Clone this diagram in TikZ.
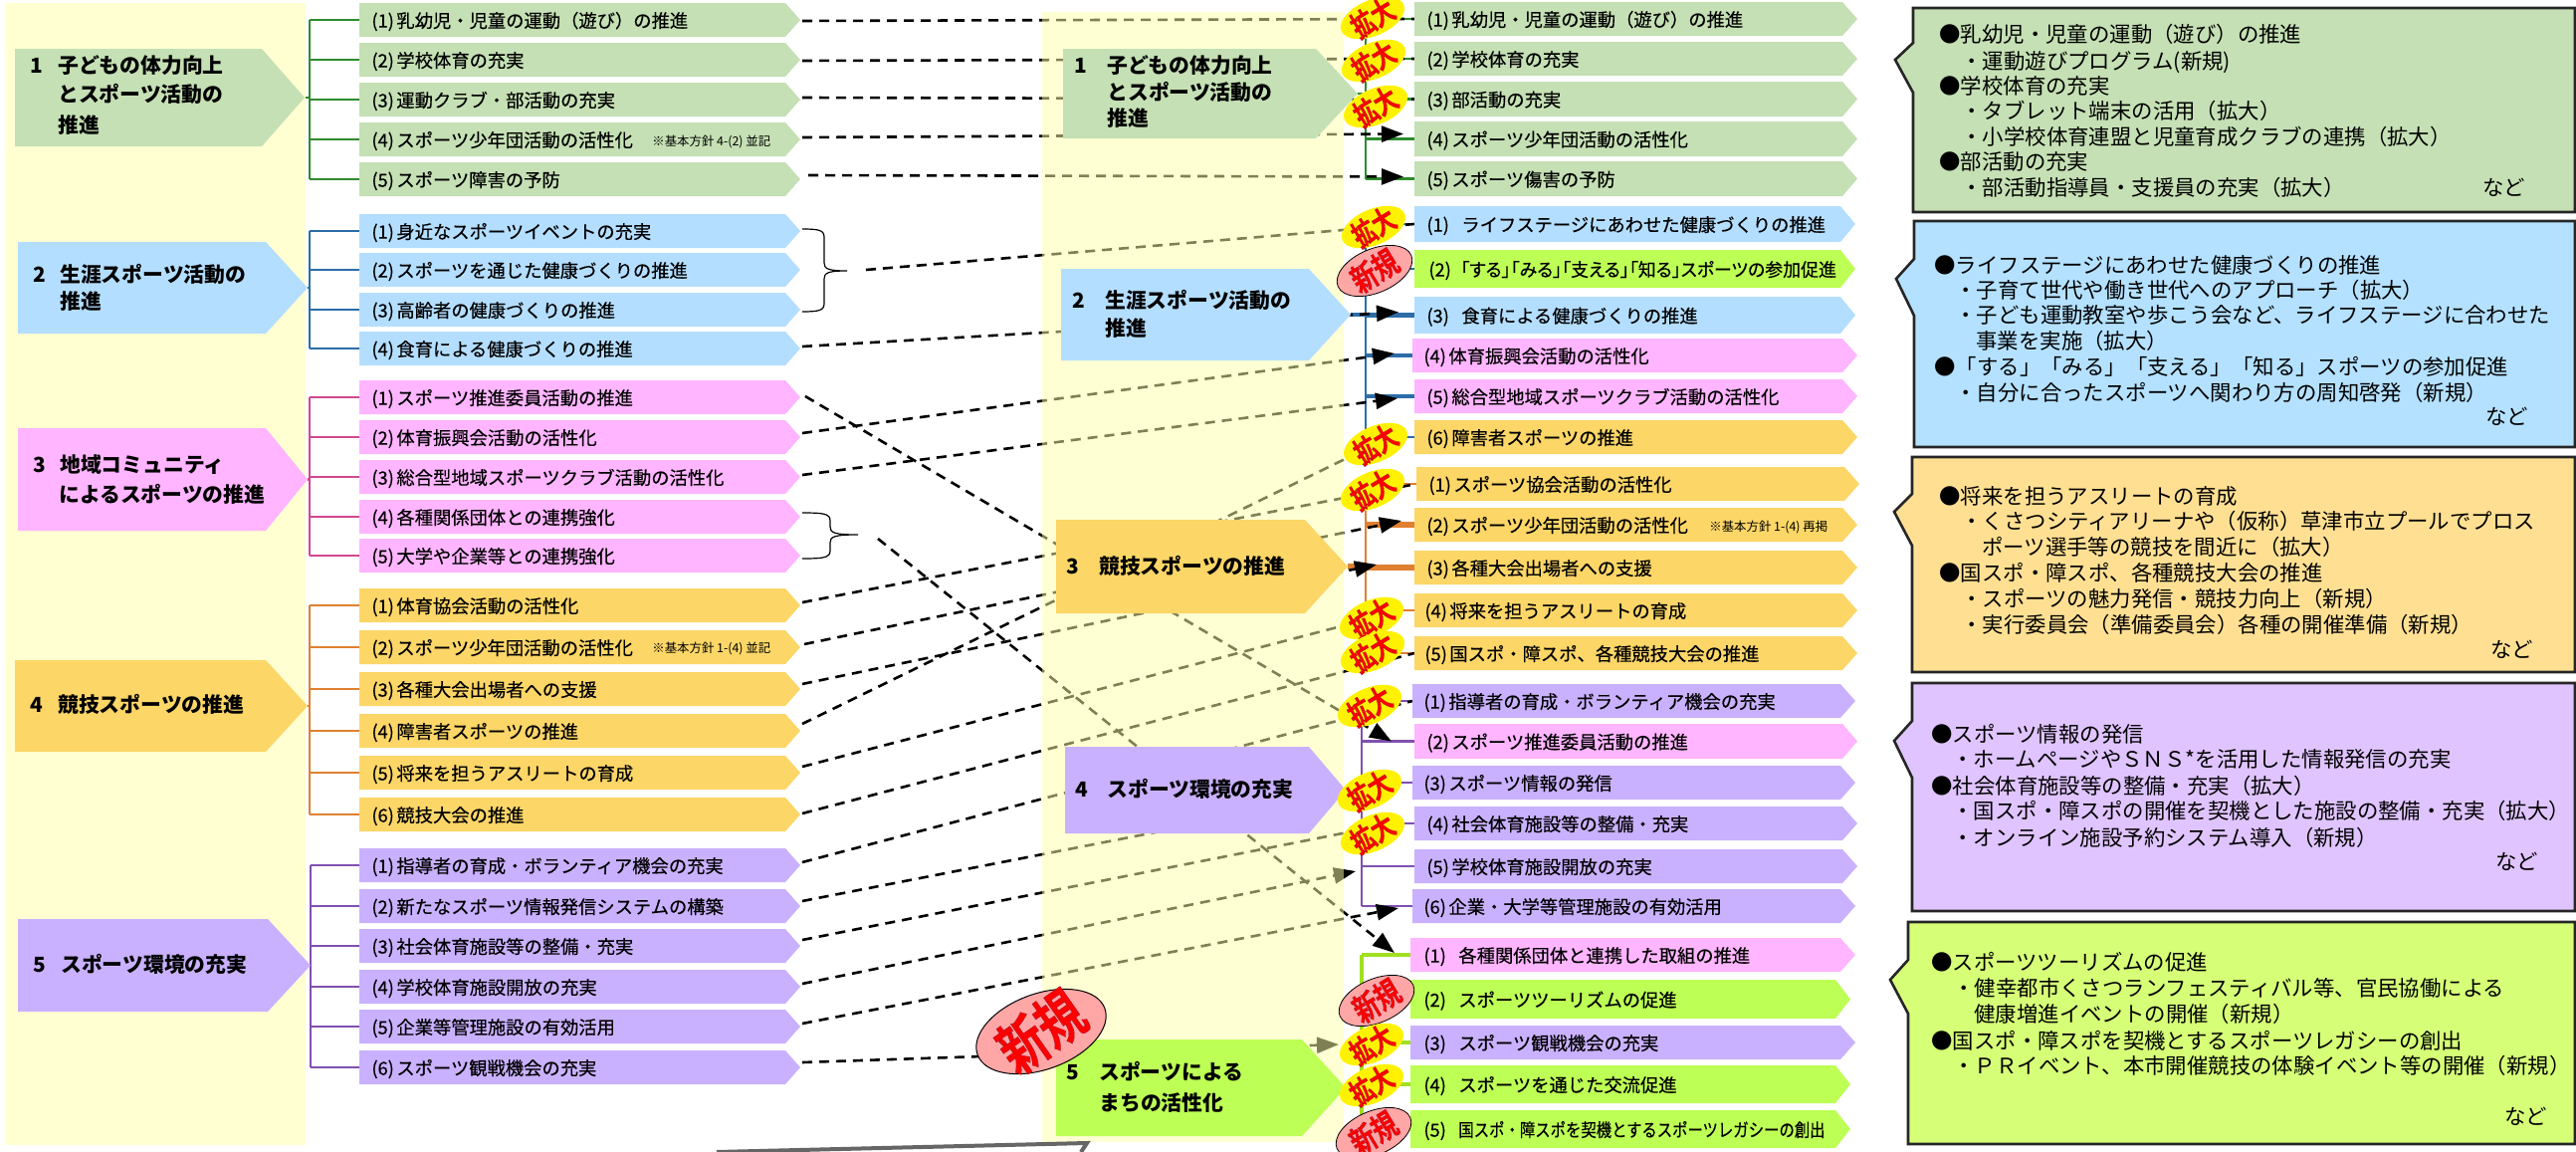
\documentclass[tikz,border=0pt]{standalone}
\usepackage{fontspec}
\setmainfont{Noto Sans CJK JP}
\newfontface\itemface[FakeBold=0.35]{Noto Sans CJK JP}
\newfontface\badgeface[FakeBold=0.15]{Noto Sans CJK JP Bold}
\usetikzlibrary{fit,calc,shapes.geometric,arrows.meta}
\definecolor{cgreen}{HTML}{C5E0B4}
\definecolor{cblue}{HTML}{B4DEFF}
\definecolor{cpink}{HTML}{FFB5FF}
\definecolor{corange}{HTML}{FCD667}
\definecolor{cpurple}{HTML}{C9B1FF}
\definecolor{clime}{HTML}{BDFF55}
\definecolor{bgreen}{HTML}{C5E0B4}
\definecolor{bblue}{HTML}{B4E1FF}
\definecolor{borange}{HTML}{FFE093}
\definecolor{bpurple}{HTML}{E0C4FF}
\definecolor{blime}{HTML}{D6FF77}
\definecolor{lgreen}{HTML}{2E8B2E}
\definecolor{lblue}{HTML}{2C6DA8}
\definecolor{lpink}{HTML}{D0488F}
\definecolor{lorange}{HTML}{E08030}
\definecolor{lpurple}{HTML}{8050B0}
\definecolor{llime}{HTML}{A0E020}
\definecolor{bandy}{HTML}{FFFFD2}
\definecolor{bandover}{HTML}{FFFFAA}
\definecolor{badgepink}{HTML}{FFA6A6}
\pgfdeclarelayer{branch}
\pgfdeclarelayer{back}
\pgfdeclarelayer{mid}
\pgfsetlayers{branch,back,mid,main}
\newcounter{tnum}
\newcommand\numb[1]{\makebox[12.5pt][l]{#1}}
\newcommand\numw[1]{\makebox[17.5pt][l]{#1}}
\newcommand\redout[1]{\special{pdf:code 1 0 0 rg .3 .1 .3 RG}{\badgeface #1}\special{pdf:code 0 0 0 rg 0 0 0 RG}}
% name, x1, y1, shoulder, tip, y2, colour
\newcommand\parrow[7]{%
  \fill[#7] (#2,#3) -- (#4,#3) -- (#5,{(#3+#6)/2}) -- (#4,#6) -- (#2,#6) -- cycle;
  \node[fit={(#2,#3)(#5,#6)},inner sep=0pt,outer sep=0pt] (#1) {};}
% name, x1, y1, y2, tip, colour, text x, text
\newcommand\itm[8]{%
  \parrow{#1}{#2}{#3}{\the\numexpr#5-15\relax}{#5}{#4}{#6}%
  \node[itemtext] (#1-t) at (#7,{(#3+#4)/2}) {#8};}
% x y text : head line
\newcommand\hd[3]{\stepcounter{tnum}\node[headtext] (h\arabic{tnum}) at (#1,#2) {#3};}
\newcommand\boxline[3]{\stepcounter{tnum}\node[boxtext] (k\arabic{tnum}) at (#1,#2) {#3};}
% name left top bottom tipx pmid ptop pbot colour
\newcommand\callout[9]{%
  \filldraw[line width=1.3pt,draw=black!85,fill=#9] (#2,#3) -- (2587,#3) -- (2587,#4) -- (#2,#4) -- (#2,#8) -- (#5,#6) -- (#2,#7) -- cycle;
  \node[fit={(#2,#3)(2587,#4)},inner sep=0pt] (#1) {};}
\newcommand\kakudai[3]{\node[badgey] (#1) at (#2,#3) {};
  \node[badgetext,rotate=31] (#1t) at (#1) {\scalebox{.95}[1.25]{\redout{拡大}}};}
\newcommand\shinki[3]{\node[badgep] (#1) at (#2,#3) {};
  \node[badgetext,rotate=31,font=\fontsize{13pt}{13pt}\selectfont] (#1t) at (#1) {\scalebox{.95}[1.25]{\redout{新規}}};}
% colour style, trunk x, big, first, last, all
\newcommand\tree[6]{%
  \coordinate (T) at (#2,0);
  \draw[#1] (#3.east) -- (#3.east -| T);
  \draw[#1] (#4.west -| T) -- (#5.west -| T);
  \foreach \nm in {#6}{\draw[#1] (\nm.west) -- (\nm.west -| T);}}
% name-of-tip x0 xv xt yt ym yb
\newcommand\bracepath[7]{%
  \coordinate (#1) at (#4,#6);
  \draw[line width=.6pt] (#2,#5) .. controls (#3-6,#5) and (#3,#5+1) .. (#3,#5+8) -- (#3,#6-8) .. controls (#3,#6-2) and (#3+4,#6) .. (#1) .. controls (#3+4,#6) and (#3,#6+2) .. (#3,#6+8) -- (#3,#7-8) .. controls (#3,#7-1) and (#3-6,#7) .. (#2,#7);}
\tikzset{
  itemtext/.style={anchor=base west,inner sep=0pt,font=\fontsize{9.15pt}{10pt}\itemface,yshift=-3.8pt},
  smalltext/.style={anchor=base west,inner sep=0pt,font=\fontsize{6.2pt}{7pt}\selectfont,yshift=-2.6pt},
  headtext/.style={anchor=base west,inner sep=0pt,font=\fontsize{10.4pt}{11pt}\selectfont\bfseries,yshift=-3.8pt},
  boxtext/.style={anchor=base west,inner sep=0pt,font=\fontsize{10.7pt}{11pt}\selectfont,yshift=-3.9pt},
  dline/.style={line width=1.3pt,dash pattern=on 5pt off 3.5pt,black},
  darr/.style={dline,-{Triangle[length=11pt,width=8pt]}},
  badgey/.style={ellipse,fill=yellow,rotate=23,minimum width=34pt,minimum height=18pt,inner sep=0pt,outer sep=0pt},
  badgep/.style={ellipse,fill=badgepink,draw=black,line width=.4pt,rotate=23,minimum width=40pt,minimum height=22pt,inner sep=0pt,outer sep=0pt},
  badgetext/.style={inner sep=0pt,font=\fontsize{12pt}{12pt}\selectfont},
  trg/.style={lgreen,line width=1.1pt},
  trb/.style={lblue,line width=1.1pt},
  trbb/.style={lblue,line width=2.4pt},
  trp/.style={lpink,line width=1.1pt},
  tro/.style={lorange,line width=1.1pt},
  troo/.style={lorange,line width=2.6pt},
  tru/.style={lpurple,line width=1.1pt},
  trl/.style={llime,line width=1.6pt},
}
\begin{document}
\begin{tikzpicture}[x=0.5pt,y=-0.5pt]
\useasboundingbox (0,0) rectangle (2588,1157);
% left band
\fill[bandy] (5,3) rectangle (307,1150);
% big left arrows
\parrow{big1}{15}{49}{263}{306}{147}{cgreen}
\parrow{big2}{18}{243}{267}{309}{335}{cblue}
\parrow{big3}{18}{430}{267}{309}{533}{cpink}
\parrow{big4}{15}{663}{267}{309}{755}{corange}
\parrow{big5}{18}{923}{269}{312}{1016}{cpurple}
\hd{30}{66}{\makebox[14pt][l]{1}子どもの体力向上}
\hd{58}{95}{とスポーツ活動の}
\hd{58}{126}{推進}
\hd{33}{276}{\makebox[13.5pt][l]{2}生涯スポーツ活動の}
\hd{60}{303}{推進}
\hd{33}{467}{\makebox[13.5pt][l]{3}地域コミュニティ}
\hd{59}{497}{によるスポーツの推進}
\hd{30}{708}{\makebox[14pt][l]{4}競技スポーツの推進}
\hd{33}{969}{\makebox[14pt][l]{5}スポーツ環境の充実}
% left items
\itm{lg1}{361}{3}{37}{804}{cgreen}{373}{\numb{(1)}乳幼児・児童の運動（遊び）の推進}
\itm{lg2}{361}{43}{77}{804}{cgreen}{373}{\numb{(2)}学校体育の充実}
\itm{lg3}{361}{83}{117}{804}{cgreen}{373}{\numb{(3)}運動クラブ・部活動の充実}
\itm{lg4}{361}{123}{157}{804}{cgreen}{373}{\numb{(4)}スポーツ少年団活動の活性化}
\node[smalltext] (lg4s) at (655,141) {※基本方針 4-(2) 並記};
\itm{lg5}{361}{163}{197}{804}{cgreen}{373}{\numb{(5)}スポーツ障害の予防}
\itm{lb1}{361}{215}{249}{804}{cblue}{373}{\numb{(1)}身近なスポーツイベントの充実}
\itm{lb2}{361}{254}{288}{804}{cblue}{373}{\numb{(2)}スポーツを通じた健康づくりの推進}
\itm{lb3}{361}{294}{328}{804}{cblue}{373}{\numb{(3)}高齢者の健康づくりの推進}
\itm{lb4}{361}{333}{367}{804}{cblue}{373}{\numb{(4)}食育による健康づくりの推進}
\itm{lp1}{361}{382}{416}{804}{cpink}{373}{\numb{(1)}スポーツ推進委員活動の推進}
\itm{lp2}{361}{422}{456}{804}{cpink}{373}{\numb{(2)}体育振興会活動の活性化}
\itm{lp3}{361}{462}{496}{804}{cpink}{373}{\numb{(3)}総合型地域スポーツクラブ活動の活性化}
\itm{lp4}{361}{502}{536}{804}{cpink}{373}{\numb{(4)}各種関係団体との連携強化}
\itm{lp5}{361}{541}{575}{804}{cpink}{373}{\numb{(5)}大学や企業等との連携強化}
\itm{lo1}{361}{591}{625}{804}{corange}{373}{\numb{(1)}体育協会活動の活性化}
\itm{lo2}{361}{633}{667}{804}{corange}{373}{\numb{(2)}スポーツ少年団活動の活性化}
\node[smalltext] (lo2s) at (655,650) {※基本方針 1-(4) 並記};
\itm{lo3}{361}{675}{709}{804}{corange}{373}{\numb{(3)}各種大会出場者への支援}
\itm{lo4}{361}{717}{751}{804}{corange}{373}{\numb{(4)}障害者スポーツの推進}
\itm{lo5}{361}{759}{793}{804}{corange}{373}{\numb{(5)}将来を担うアスリートの育成}
\itm{lo6}{361}{801}{835}{804}{corange}{373}{\numb{(6)}競技大会の推進}
\itm{lu1}{361}{852}{886}{804}{cpurple}{373}{\numb{(1)}指導者の育成・ボランティア機会の充実}
\itm{lu2}{361}{893}{927}{804}{cpurple}{373}{\numb{(2)}新たなスポーツ情報発信システムの構築}
\itm{lu3}{361}{933}{967}{804}{cpurple}{373}{\numb{(3)}社会体育施設等の整備・充実}
\itm{lu4}{361}{974}{1008}{804}{cpurple}{373}{\numb{(4)}学校体育施設開放の充実}
\itm{lu5}{361}{1014}{1048}{804}{cpurple}{373}{\numb{(5)}企業等管理施設の有効活用}
\itm{lu6}{361}{1055}{1089}{804}{cpurple}{373}{\numb{(6)}スポーツ観戦機会の充実}
% middle big arrows
\parrow{mid1}{1068}{49}{1322}{1364}{139}{cgreen}
\parrow{mid2}{1066}{270}{1315}{1357}{362}{cblue}
\parrow{mid3}{1061}{522}{1311}{1354}{616}{corange}
\parrow{mid4}{1070}{750}{1315}{1352}{837}{cpurple}
\parrow{mid5}{1061}{1044}{1308}{1352}{1141}{clime}
\hd{1079}{66}{\makebox[16.5pt][l]{1}子どもの体力向上}
\hd{1112}{93}{とスポーツ活動の}
\hd{1112}{119}{推進}
\hd{1077}{302}{\makebox[16.5pt][l]{2}生涯スポーツ活動の}
\hd{1110}{330}{推進}
\hd{1071}{569}{\makebox[16.5pt][l]{3}競技スポーツの推進}
\hd{1080}{793}{\makebox[16pt][l]{4}スポーツ環境の充実}
\hd{1071}{1077}{\makebox[16.5pt][l]{5}スポーツによる}
\hd{1104}{1108}{まちの活性化}
% right items
\itm{rg1}{1421}{2}{36}{1866}{cgreen}{1433}{\numb{(1)}乳幼児・児童の運動（遊び）の推進}
\itm{rg2}{1421}{42}{76}{1866}{cgreen}{1433}{\numb{(2)}学校体育の充実}
\itm{rg3}{1421}{82}{117}{1866}{cgreen}{1433}{\numb{(3)}部活動の充実}
\itm{rg4}{1421}{122}{157}{1866}{cgreen}{1433}{\numb{(4)}スポーツ少年団活動の活性化}
\itm{rg5}{1421}{162}{197}{1866}{cgreen}{1433}{\numb{(5)}スポーツ傷害の予防}
\itm{rb1}{1421}{207}{243}{1864}{cblue}{1433}{\numw{(1)}ライフステージにあわせた健康づくりの推進}
\itm{rl2}{1421}{251}{289}{1864}{clime}{1435}{\makebox[16pt][l]{(2)}\scalebox{.98}[1]{\addfontfeature{RawFeature=+palt}「する」「みる」「支える」「知る」スポーツの参加促進}}
\itm{rb3}{1421}{298}{335}{1864}{cblue}{1433}{\numw{(3)}食育による健康づくりの推進}
\itm{rp4}{1419}{340}{374}{1866}{cpink}{1430}{\numb{(4)}体育振興会活動の活性化}
\itm{rp5}{1421}{381}{415}{1866}{cpink}{1433}{\numb{(5)}総合型地域スポーツクラブ活動の活性化}
\itm{ro6}{1421}{422}{456}{1866}{corange}{1433}{\numb{(6)}障害者スポーツの推進}
\itm{ro1}{1423}{469}{503}{1868}{corange}{1435}{\numb{(1)}スポーツ協会活動の活性化}
\itm{ro2}{1421}{510}{544}{1866}{corange}{1433}{\numb{(2)}スポーツ少年団活動の活性化}
\node[smalltext] (ro2s) at (1717,528) {※基本方針 1-(4) 再掲};
\itm{ro3}{1421}{553}{587}{1866}{corange}{1433}{\numb{(3)}各種大会出場者への支援}
\itm{ro4}{1421}{596}{630}{1866}{corange}{1431}{\numb{(4)}将来を担うアスリートの育成}
\itm{ro5}{1421}{639}{673}{1866}{corange}{1431}{\numb{(5)}国スポ・障スポ、各種競技大会の推進}
\itm{rq1}{1419}{687}{721}{1864}{cpurple}{1430}{\numb{(1)}指導者の育成・ボランティア機会の充実}
\itm{rp2}{1421}{727}{762}{1866}{cpink}{1433}{\numb{(2)}スポーツ推進委員活動の推進}
\itm{rq3}{1419}{769}{803}{1864}{cpurple}{1430}{\numb{(3)}スポーツ情報の発信}
\itm{rq4}{1421}{810}{844}{1866}{cpurple}{1433}{\numb{(4)}社会体育施設等の整備・充実}
\itm{rq5}{1421}{853}{887}{1866}{cpurple}{1433}{\numb{(5)}学校体育施設開放の充実}
\itm{rq6}{1419}{893}{927}{1864}{cpurple}{1430}{\numb{(6)}企業・大学等管理施設の有効活用}
\itm{rx1}{1417}{942}{976}{1864}{cpink}{1430}{\numw{(1)}各種関係団体と連携した取組の推進}
\itm{rs2}{1417}{984}{1023}{1859}{clime}{1430}{\numw{(2)}スポーツツーリズムの促進}
\itm{rs3}{1417}{1030}{1064}{1864}{cpurple}{1430}{\numw{(3)}スポーツ観戦機会の充実}
\itm{rs4}{1417}{1070}{1108}{1859}{clime}{1430}{\numw{(4)}スポーツを通じた交流促進}
\itm{rs5}{1417}{1115}{1153}{1859}{clime}{1430}{\numw{(5)}\scalebox{.84}[1]{国スポ・障スポを契機とするスポーツレガシーの創出}}
% badges
\kakudai{a1}{1379}{18}
\kakudai{a2}{1380}{61}
\kakudai{a3}{1382}{107}
\kakudai{a4}{1380}{228}
\shinki{n1}{1381}{272}
\kakudai{a5}{1382}{446}
\kakudai{a6}{1379}{492}
\kakudai{a7}{1378}{621}
\kakudai{a8}{1379}{655}
\kakudai{a9}{1376}{709}
\kakudai{a10}{1376}{794}
\kakudai{a11}{1379}{837}
\shinki{n2}{1383}{1005}
\kakudai{a12}{1378}{1049}
\kakudai{a13}{1378}{1090}
\shinki{n3}{1380}{1138}
\node[ellipse,fill=badgepink,draw=black,line width=.5pt,rotate=20,minimum width=68pt,minimum height=38pt,inner sep=0pt] (nbig) at (1046,1036) {};
\node[badgetext,rotate=35,font=\fontsize{24pt}{24pt}\selectfont] (nbigt) at (nbig) {\scalebox{.95}[1.25]{\redout{新規}}};
% right call-out boxes
\callout{box1}{1922}{8}{213}{1904}{60}{43}{93}{bgreen}
\callout{box2}{1923}{222}{449}{1905}{280}{260}{317}{bblue}
\callout{box3}{1921}{459}{675}{1903}{514}{496}{548}{borange}
\callout{box4}{1921}{686}{915}{1903}{744}{724}{781}{bpurple}
\callout{box5}{1917}{926}{1149}{1899}{984}{964}{1018}{blime}
\boxline{1948}{35}{●乳幼児・児童の運動（遊び）の推進}
\boxline{1970}{62}{・運動遊びプログラム(新規)}
\boxline{1948}{87}{●学校体育の充実}
\boxline{1970}{112}{・タブレット端末の活用（拡大）}
\boxline{1970}{138}{・小学校体育連盟と児童育成クラブの連携（拡大）}
\boxline{1948}{163}{●部活動の充実}
\boxline{1970}{189}{・部活動指導員・支援員の充実（拡大）}
\boxline{2494}{189}{など}
\boxline{1943}{267}{●ライフステージにあわせた健康づくりの推進}
\boxline{1964}{292}{・子育て世代や働き世代へのアプローチ（拡大）}
\boxline{1964}{317}{・子ども運動教室や歩こう会など、ライフステージに合わせた}
\boxline{1985}{343}{事業を実施（拡大）}
\boxline{1943}{369}{●「する」「みる」「支える」「知る」スポーツの参加促進}
\boxline{1964}{395}{・自分に合ったスポーツへ関わり方の周知啓発（新規）}
\boxline{2497}{419}{など}
\boxline{1948}{499}{●将来を担うアスリートの育成}
\boxline{1970}{524}{・くさつシティアリーナや（仮称）草津市立プールでプロス}
\boxline{1991}{550}{ポーツ選手等の競技を間近に（拡大）}
\boxline{1948}{576}{●国スポ・障スポ、各種競技大会の推進}
\boxline{1970}{602}{・スポーツの魅力発信・競技力向上（新規）}
\boxline{1970}{628}{・実行委員会（準備委員会）各種の開催準備（新規）}
\boxline{2502}{653}{など}
\boxline{1940}{738}{●スポーツ情報の発信}
\boxline{1961}{763}{・ホームページやＳＮＳ*を活用した情報発信の充実}
\boxline{1940}{790}{●社会体育施設等の整備・充実（拡大）}
\boxline{1961}{815}{・国スポ・障スポの開催を契機とした施設の整備・充実（拡大）}
\boxline{1961}{842}{・オンライン施設予約システム導入（新規）}
\boxline{2507}{866}{など}
\boxline{1940}{967}{●スポーツツーリズムの促進}
\boxline{1962}{993}{・健幸都市くさつランフェスティバル等、官民協働による}
\boxline{1983}{1019}{健康増進イベントの開催（新規）}
\boxline{1940}{1046}{●国スポ・障スポを契機とするスポーツレガシーの創出}
\boxline{1962}{1071}{・ＰＲイベント、本市開催競技の体験イベント等の開催（新規）}
\boxline{2516}{1122}{など}
% bottom grey wedge
\coordinate (w1) at (720,1157);
\coordinate (w2) at (1092,1148);
\coordinate (w3) at (1086,1157);
\draw[black!60,line width=2pt,line join=miter] (w1) -- (w2) -- (w3);
% band over the dashed lines
\begin{pgfonlayer}{mid}
\fill[bandover,opacity=.5] (1047,12) rectangle (1350,1147);
\end{pgfonlayer}
% trees
\begin{pgfonlayer}{branch}
\tree{trg}{311}{big1}{lg1}{lg5}{lg1,lg2,lg3,lg4,lg5}
\tree{trb}{311}{big2}{lb1}{lb4}{lb1,lb2,lb3,lb4}
\tree{trp}{311}{big3}{lp1}{lp5}{lp1,lp2,lp3,lp4,lp5}
\tree{tro}{311}{big4}{lo1}{lo6}{lo1,lo2,lo3,lo4,lo5,lo6}
\tree{tru}{312}{big5}{lu1}{lu6}{lu1,lu2,lu3,lu4,lu5,lu6}
\tree{trg}{1372}{mid1}{rg1}{rg5}{rg1,rg2,rg3,rg4,rg5}
\tree{trb}{1372}{mid2}{rb1}{ro6}{rb1,rl2,ro6}
\tree{trbb}{1372}{mid2}{rb3}{rb3}{rb3,rp4,rp5}
\tree{tro}{1372}{mid3}{ro1}{ro5}{ro1,ro4,ro5}
\tree{troo}{1372}{mid3}{ro2}{ro2}{ro2,ro3}
\tree{tru}{1368}{mid4}{rq1}{rq6}{rq1,rp2,rq3,rq4,rq5,rq6}
\tree{trl}{1368}{mid5}{rx1}{rs5}{rx1,rs2,rs3,rs4,rs5}
\end{pgfonlayer}
% dashed connectors
\begin{pgfonlayer}{back}
\bracepath{ba}{806}{828}{851}{230}{272}{313}
\bracepath{bc}{806}{834}{862}{515}{537}{561}
\draw[dline] ($(lg1.east)+(2,1)$) -- (rg1.west);
\draw[dline] ($(lg2.east)+(2,1)$) -- (rg2.west);
\draw[dline] ($(lg3.east)+(2,-2)$) -- (rg3.west);
\draw[darr] ($(lg4.east)+(2,-2)$) -- ($(rg4.west)+(-11,-5)$);
\draw[darr] ($(lg5.east)+(8,-4)$) -- ($(rg5.west)+(-11,-2)$);
\draw[dline] ($(ba)+(19,-1)$) -- (rb1.west);
\draw[darr] ($(lb4.east)+(2,-2)$) -- ($(rb3.west)+(-16,-3)$);
\draw[darr] ($(lp1.east)+(5,-1)$) -- ($(rp2.west)+(-23,0)$);
\draw[darr] ($(lp2.east)+(2,-4)$) -- ($(rp4.west)+(-18,-2)$);
\draw[darr] ($(lp3.east)+(2,-2)$) -- ($(rp5.west)+(-17,2)$);
\draw[darr] ($(bc)+(20,4)$) -- ($(rx1.west)+(-16,-2)$);
\draw[dline] ($(lo1.east)+(2,-3)$) -- (ro1.west);
\draw[darr] ($(lo2.east)+(4,-3)$) -- ($(ro2.west)+(-13,-4)$);
\draw[darr] ($(lo3.east)+(2,-5)$) -- ($(ro3.west)+(-38,-3)$);
\draw[dline] ($(lo4.east)+(2,-7)$) -- (a5);
\draw[dline] ($(lo5.east)+(2,-6)$) -- (a7);
\draw[dline] ($(lo6.east)+(2,-1)$) -- (ro5.west);
\draw[dline] ($(lu1.east)+(2,-3)$) -- (rq1.west);
\draw[dline] ($(lu2.east)+(2,-5)$) -- (a10);
\draw[dline] ($(lu3.east)+(2,-6)$) -- ($(a11)+(0,-6)$);
\draw[darr] ($(lu4.east)+(2,-3)$) -- ($(rq5.west)+(-59,5)$);
\draw[darr] ($(lu5.east)+(2,-3)$) -- ($(rq6.west)+(-14,2)$);
\draw[darr] ($(lu6.east)+(2,-5)$) -- ($(rs3.west)+(-72,2)$);
\end{pgfonlayer}
\end{tikzpicture}
\end{document}
